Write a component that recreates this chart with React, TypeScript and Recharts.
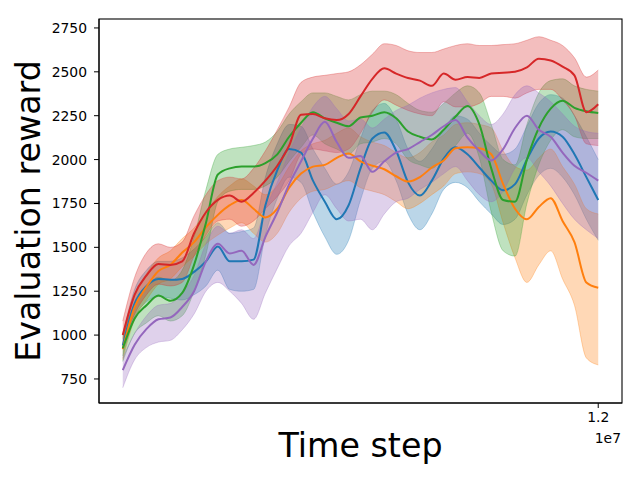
import React from 'react';
import { ComposedChart, Area, Line, XAxis, YAxis } from 'recharts';

// time steps in millions
const STEPS_M = [0, 0.3, 0.6, 0.9, 1.2, 1.5, 1.8, 2.1, 2.4, 2.7, 3.0, 3.3, 3.6, 3.9, 4.2, 4.5, 4.8, 5.1, 5.4, 5.7, 6.0,
    6.3, 6.6, 6.9, 7.2, 7.5, 7.8, 8.1, 8.4, 8.7, 9.0, 9.3, 9.6, 9.9, 10.2, 10.5, 10.8, 11.1, 11.4, 11.7, 12.0];

const Y_TICKS = [750, 1000, 1250, 1500, 1750, 2000, 2250, 2500, 2750];
const X_TICKS = [12000000];

const blueMean = [940, 1180, 1280, 1320, 1315, 1320, 1360, 1420, 1505, 1420, 1420, 1430, 1740, 1940, 2060, 2040, 1880, 1760, 1660, 1740, 1950,
    2120, 2155, 2050, 1870, 1795, 1880, 2005, 2070, 2030, 1955, 1880, 1825, 1860, 2000, 2120, 2160, 2130, 2030, 1900, 1770];
const blueHi = [1000, 1260, 1370, 1420, 1420, 1440, 1490, 1560, 1640, 1580, 1590, 1610, 1900, 2090, 2200, 2190, 2060, 1950, 1860, 1930, 2120,
    2280, 2320, 2230, 2060, 1990, 2060, 2170, 2250, 2230, 2150, 2080, 2030, 2060, 2190, 2320, 2370, 2350, 2250, 2130, 2000];
const blueLo = [880, 1100, 1190, 1220, 1210, 1200, 1230, 1280, 1370, 1260, 1250, 1260, 1570, 1780, 1900, 1870, 1700, 1560, 1460, 1540, 1770,
    1950, 1990, 1880, 1690, 1600, 1690, 1830, 1870, 1840, 1760, 1690, 1630, 1660, 1800, 1910, 1950, 1900, 1800, 1660, 1540];

const orangeMean = [920, 1160, 1275, 1365, 1400, 1470, 1530, 1615, 1685, 1740, 1770, 1720, 1670, 1720, 1840, 1920, 1960, 1970, 2010, 2035, 1990,
    1965, 1945, 1905, 1875, 1900, 1955, 1995, 2065, 2070, 2065, 2030, 1860, 1720, 1660, 1730, 1780, 1650, 1530, 1300, 1270];
const orangeHi = [980, 1230, 1350, 1440, 1480, 1550, 1610, 1700, 1790, 1850, 1890, 1850, 1800, 1850, 1960, 2050, 2090, 2110, 2150, 2180, 2130,
    2100, 2080, 2040, 2010, 2040, 2100, 2140, 2200, 2210, 2200, 2180, 2050, 1960, 1940, 2010, 2060, 1960, 1860, 1720, 1690];
const orangeLo = [860, 1090, 1200, 1290, 1320, 1390, 1450, 1520, 1570, 1610, 1640, 1580, 1530, 1580, 1700, 1780, 1820, 1830, 1860, 1880, 1840,
    1820, 1800, 1760, 1720, 1750, 1800, 1850, 1920, 1930, 1920, 1860, 1640, 1440, 1300, 1400, 1480, 1320, 1170, 870, 830];

const greenMean = [925, 1095, 1170, 1225, 1195, 1240, 1400, 1640, 1915, 1950, 1960, 1960, 1980, 2030, 2130, 2210, 2270, 2235, 2210, 2190, 2240,
    2250, 2270, 2235, 2160, 2130, 2115, 2170, 2245, 2305, 2200, 1950, 1770, 1760, 2000, 2180, 2290, 2335, 2295, 2275, 2265];
const greenHi = [1000, 1180, 1270, 1330, 1310, 1370, 1560, 1830, 2030, 2060, 2070, 2080, 2100, 2160, 2260, 2330, 2380, 2380, 2360, 2340, 2370,
    2390, 2390, 2370, 2320, 2280, 2270, 2320, 2380, 2420, 2380, 2200, 2000, 1970, 2200, 2380, 2450, 2460, 2420, 2400, 2390];
const greenLo = [850, 1010, 1070, 1110, 1080, 1110, 1250, 1460, 1760, 1820, 1830, 1830, 1850, 1900, 1990, 2070, 2140, 2090, 2060, 2030, 2090,
    2100, 2120, 2090, 2000, 1970, 1950, 2010, 2080, 2150, 2010, 1700, 1480, 1450, 1750, 1970, 2110, 2170, 2130, 2120, 2120];

const redMean = [1000, 1230, 1340, 1405, 1400, 1420, 1580, 1700, 1770, 1795, 1760, 1810, 1880, 1965, 2080, 2255, 2260, 2235, 2225, 2260, 2360,
    2460, 2520, 2490, 2465, 2450, 2420, 2490, 2455, 2470, 2465, 2490, 2495, 2500, 2525, 2575, 2565, 2530, 2480, 2270, 2315];
const redHi = [1080, 1330, 1470, 1520, 1500, 1530, 1680, 1800, 1880, 1900, 1890, 1950, 2050, 2170, 2300, 2440, 2470, 2480, 2490, 2500, 2540,
    2600, 2660, 2650, 2620, 2610, 2610, 2630, 2650, 2660, 2650, 2650, 2655, 2660, 2680, 2700, 2680, 2650, 2580, 2470, 2510];
const redLo = [950, 1120, 1230, 1290, 1280, 1300, 1450, 1570, 1650, 1660, 1620, 1650, 1720, 1790, 1880, 2030, 2060, 2050, 2040, 2060, 2150,
    2270, 2340, 2310, 2280, 2260, 2250, 2330, 2300, 2300, 2320, 2360, 2360, 2350, 2380, 2400, 2400, 2340, 2250, 2090, 2080];

const purpleMean = [800, 945, 1035, 1090, 1100, 1160, 1250, 1420, 1520, 1465, 1480, 1400, 1560, 1700, 1860, 1990, 2120, 2215, 2100, 2010, 2020,
    1930, 1990, 2040, 2060, 2100, 2140, 2190, 2225, 2125, 2050, 1995, 2060, 2180, 2250, 2170, 2130, 2040, 1965, 1925, 1880];
const purpleHi = [870, 1010, 1110, 1170, 1180, 1240, 1340, 1520, 1620, 1580, 1600, 1550, 1720, 1870, 2040, 2180, 2300, 2360, 2290, 2220, 2230,
    2180, 2230, 2280, 2310, 2350, 2380, 2400, 2410, 2330, 2250, 2200, 2260, 2370, 2420, 2380, 2330, 2260, 2190, 2160, 2150];
const purpleLo = [700, 860, 930, 960, 970, 1030, 1120, 1250, 1300, 1250, 1180, 1090, 1240, 1380, 1510, 1580, 1700, 1800, 1720, 1650, 1660,
    1600, 1690, 1760, 1780, 1830, 1870, 1920, 1960, 1880, 1800, 1760, 1820, 1950, 2010, 1930, 1850, 1750, 1660, 1600, 1550];

const SERIES = [
    { key: 'blue', color: '#1f77b4' },
    { key: 'orange', color: '#ff7f0e' },
    { key: 'green', color: '#2ca02c' },
    { key: 'red', color: '#d62728' },
    { key: 'purple', color: '#9467bd' },
];

const data = STEPS_M.map((s, i) => ({
    t: s * 1e6,
    blue: blueMean[i], blueBand: [blueLo[i], blueHi[i]],
    orange: orangeMean[i], orangeBand: [orangeLo[i], orangeHi[i]],
    green: greenMean[i], greenBand: [greenLo[i], greenHi[i]],
    red: redMean[i], redBand: [redLo[i], redHi[i]],
    purple: purpleMean[i], purpleBand: [purpleLo[i], purpleHi[i]],
}));

const FONT = 'DejaVu Sans';
const X_DOMAIN = [-600000, 12600000];
const Y_DOMAIN = [613, 2801];

// plot box, matches chart margins + axis sizes
const BOX = { left: 99, top: 19, width: 523, height: 384 };

export default function App() {
    const tickStyle = { fill: '#000', fontSize: 13.9, fontFamily: FONT };

    return (
        <div style={{ position: 'absolute', left: 0, top: 0, width: 640, height: 480, background: '#fff' }}>
            <ComposedChart width={640} height={480} data={data} margin={{ top: 19, right: 18, bottom: 47, left: 39 }}>
                <XAxis
                    dataKey="t"
                    type="number"
                    domain={X_DOMAIN}
                    ticks={X_TICKS}
                    tickFormatter={(v: number) => (v / 1e7).toFixed(1)}
                    allowDataOverflow
                    stroke="#000"
                    tick={tickStyle}
                    tickSize={5}
                    tickMargin={4}
                    height={30}
                />
                <YAxis
                    type="number"
                    domain={Y_DOMAIN}
                    ticks={Y_TICKS}
                    allowDataOverflow
                    stroke="#000"
                    tick={tickStyle}
                    tickSize={5}
                    tickMargin={7}
                    width={60}
                />

                {SERIES.map(s => (
                    <Area
                        key={s.key + 'Band'}
                        dataKey={s.key + 'Band'}
                        type="monotone"
                        fill={s.color}
                        fillOpacity={0.3}
                        stroke={s.color}
                        strokeOpacity={0.3}
                        strokeWidth={1}
                        isAnimationActive={false}
                        dot={false}
                        activeDot={false}
                    />
                ))}
                {SERIES.map(s => (
                    <Line
                        key={s.key}
                        dataKey={s.key}
                        type="monotone"
                        stroke={s.color}
                        strokeWidth={2}
                        dot={false}
                        activeDot={false}
                        isAnimationActive={false}
                    />
                ))}
            </ComposedChart>

            <svg width={640} height={480} style={{ position: 'absolute', left: 0, top: 0, pointerEvents: 'none' }}>
                <rect x={BOX.left} y={BOX.top} width={BOX.width} height={BOX.height} fill="none" stroke="#000" strokeWidth={1.1} />
                <text x={360.5} y={457} textAnchor="middle" fontSize={33.3} fontFamily={FONT} fill="#000">Time step</text>
                <text transform="translate(40,211) rotate(-90)" textAnchor="middle" fontSize={33.3} fontFamily={FONT} fill="#000">
                    Evaluation reward
                </text>
                <text x={621} y={443} textAnchor="end" fontSize={13.9} fontFamily={FONT} fill="#000">1e7</text>
            </svg>
        </div>
    );
}
